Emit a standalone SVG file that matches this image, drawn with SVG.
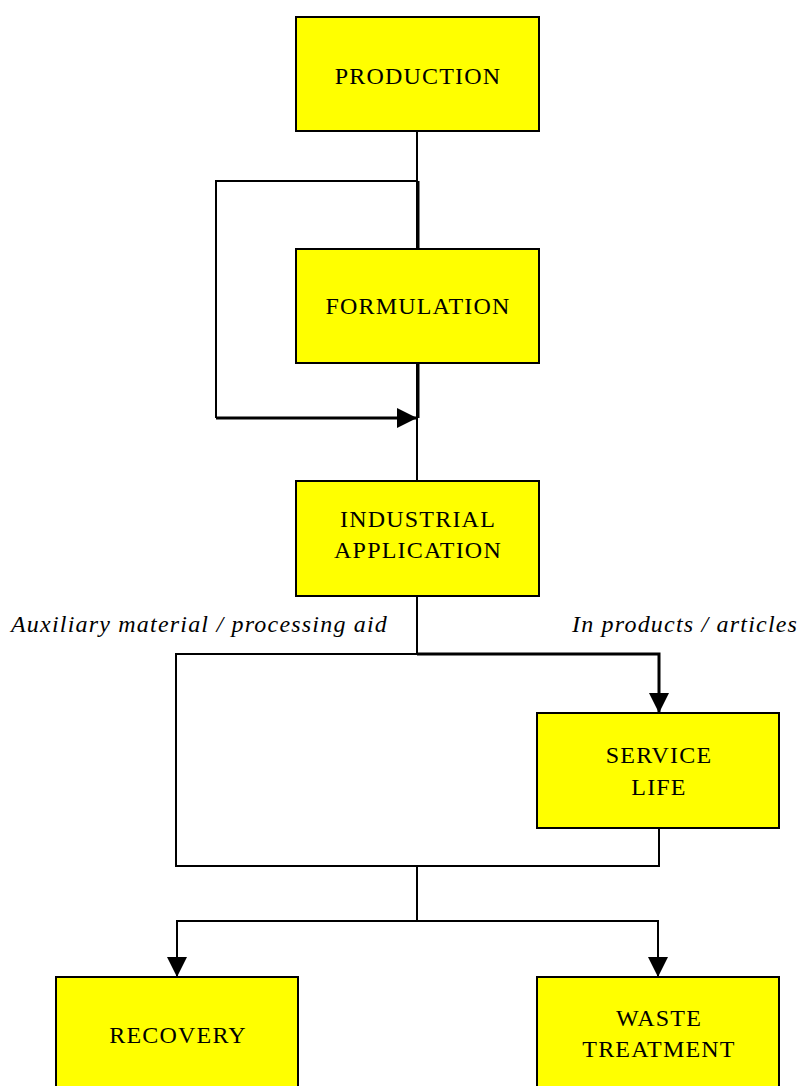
<svg xmlns="http://www.w3.org/2000/svg" width="799" height="1086" viewBox="0 0 799 1086">
<style>
.box{fill:#FFFF00;stroke:#000;stroke-width:2}
.t{font-family:"Liberation Serif","Times New Roman",serif;font-size:24px;letter-spacing:1.2px;fill:#000;text-anchor:middle}
.lbl{font-family:"Liberation Serif","Times New Roman",serif;font-size:24px;letter-spacing:1.2px;font-style:italic;fill:#000}
.ln{fill:none;stroke:#000;stroke-width:2}
.thk{fill:none;stroke:#000;stroke-width:3}
</style>
<defs>
<marker id="ah" markerWidth="20" markerHeight="20" viewBox="0 0 20 20" refX="20" refY="10" orient="auto" markerUnits="userSpaceOnUse">
<path d="M0,0 L20,10 L0,20 Z" fill="#000"/>
</marker>
</defs>
<rect width="799" height="1086" fill="#fff"/>
<g id="connectors">
<path class="ln" d="M417,131 V481"/>
<path class="thk" d="M418,181 V249"/>
<path class="thk" d="M418,363 V418"/>
<path class="ln" d="M418,181 H216 V418"/>
<path class="thk" d="M216,418 H417" marker-end="url(#ah)"/>
<path class="ln" d="M417,596 V654 H176 V866 H659 V828"/>
<path class="thk" d="M417,654 H659 V713" marker-end="url(#ah)"/>
<path class="ln" d="M417,866 V921"/>
<path class="ln" d="M417,921 H177 V977" marker-end="url(#ah)"/>
<path class="ln" d="M417,921 H658 V977" marker-end="url(#ah)"/>
</g>
<g id="production"><rect class="box" x="296" y="17" width="243" height="114"/><text class="t" x="418" y="84">PRODUCTION</text></g>
<g id="formulation"><rect class="box" x="296" y="249" width="243" height="114"/><text class="t" x="418" y="314">FORMULATION</text></g>
<g id="industrial"><rect class="box" x="296" y="481" width="243" height="115"/><text class="t" x="418" y="527">INDUSTRIAL</text><text class="t" x="418" y="558">APPLICATION</text></g>
<g id="service"><rect class="box" x="537" y="713" width="242" height="115"/><text class="t" x="659" y="763">SERVICE</text><text class="t" x="659" y="795">LIFE</text></g>
<g id="recovery"><rect class="box" x="56" y="977" width="242" height="115"/><text class="t" x="178" y="1043">RECOVERY</text></g>
<g id="waste"><rect class="box" x="537" y="977" width="242" height="115"/><text class="t" x="659" y="1026">WASTE</text><text class="t" x="659" y="1057">TREATMENT</text></g>
<g id="labels">
<text class="lbl" x="11" y="632">Auxiliary material / processing aid</text>
<text class="lbl" x="572" y="632">In products / articles</text>
</g>
</svg>
